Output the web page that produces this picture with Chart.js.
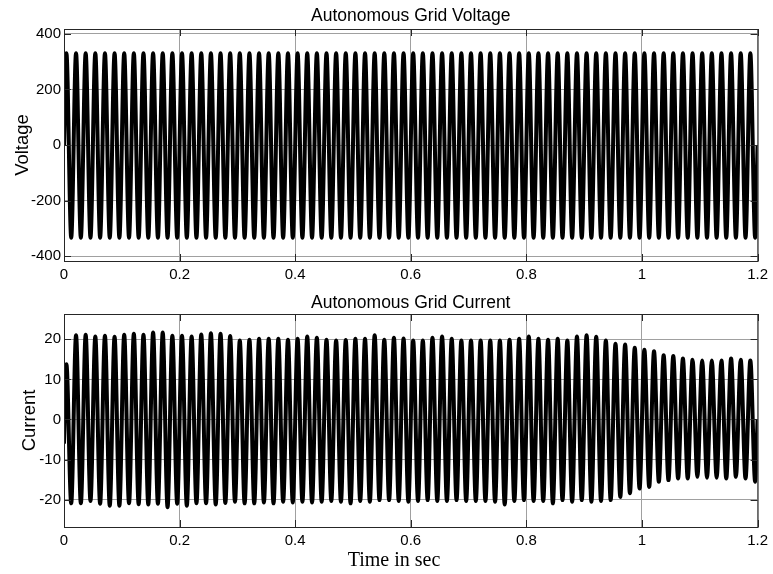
<!DOCTYPE html>
<html>
<head>
<meta charset="utf-8">
<title>Autonomous Grid</title>
<script src="https://cdn.jsdelivr.net/npm/chart.js@4.4.1/dist/chart.umd.min.js"></script>
<style>
  body { margin: 0; background: #fff; }
  #contenedor { position: relative; width: 773px; height: 574px; }
  canvas { position: absolute; left: 0; }
  #grafVolt { top: 0; }
  #grafCorr { top: 287px; }
</style>
</head>
<body>
<div id="contenedor">
  <canvas id="grafVolt" width="773" height="287"></canvas>
  <canvas id="grafCorr" width="773" height="287"></canvas>
</div>
<script>
//DATOS
const frecuencia = 60; // Hz, un pico y un valle por ciclo
const tiempoFin = 1.2;
const xTicks = [0, 0.2, 0.4, 0.6, 0.8, 1, 1.2];
const yTicksVolt = [-400, -200, 0, 200, 400];
const yTicksCorr = [-20, -10, 0, 10, 20];

// tension: valor inicial, picos y valles de cada ciclo, valor final
const voltInicio = 0;
const voltFin = 0;
const voltPicos = [
  330, 330, 330, 330, 330, 330, 330, 330, 330, 330, 330, 330,
  330, 330, 330, 330, 330, 330, 330, 330, 330, 330, 330, 330,
  330, 330, 330, 330, 330, 330, 330, 330, 330, 330, 330, 330,
  330, 330, 330, 330, 330, 330, 330, 330, 330, 330, 330, 330,
  330, 330, 330, 330, 330, 330, 330, 330, 330, 330, 330, 330,
  330, 330, 330, 330, 330, 330, 330, 330, 330, 330, 330, 330
];
const voltValles = [
  -333, -333, -333, -333, -333, -333, -333, -333, -333, -333, -333, -333,
  -333, -333, -333, -333, -333, -333, -333, -333, -333, -333, -333, -333,
  -333, -333, -333, -333, -333, -333, -333, -333, -333, -333, -333, -333,
  -333, -333, -333, -333, -333, -333, -333, -333, -333, -333, -333, -333,
  -333, -333, -333, -333, -333, -333, -333, -333, -333, -333, -333, -333,
  -333, -333, -333, -333, -333, -333, -333, -333, -333, -333, -333, -333
];

// corriente: igual que la tension
const corrInicio = -6;
const corrFin = 0;
const corrPicos = [
  13.8, 21.0, 21.1, 20.7, 20.9, 20.6, 21.1, 21.4, 21.1, 21.7, 21.7, 20.9,
  20.9, 20.7, 21.2, 21.5, 21.4, 20.8, 19.7, 19.9, 20.1, 20.1, 20.1, 19.9,
  20.1, 20.7, 20.4, 19.9, 19.7, 19.8, 20.1, 20.1, 21.0, 19.9, 20.4, 20.2,
  19.7, 19.7, 20.4, 20.7, 20.1, 19.7, 19.7, 19.7, 19.7, 19.7, 19.9, 20.1,
  20.7, 20.1, 19.9, 20.1, 19.7, 20.7, 21.0, 20.6, 19.7, 18.9, 18.7, 17.9,
  17.4, 17.0, 16.0, 15.8, 15.2, 14.9, 14.7, 14.7, 14.7, 15.2, 14.9, 14.7
];
const corrValles = [
  -20.9, -20.9, -20.3, -21.0, -21.5, -21.5, -20.9, -21.1, -21.2, -21.0, -21.9, -21.0,
  -21.5, -20.9, -20.9, -21.2, -20.8, -20.5, -20.9, -20.9, -20.7, -20.9, -20.5, -20.7,
  -20.5, -20.7, -20.5, -20.3, -20.5, -20.9, -20.3, -20.5, -20.1, -20.1, -20.3, -20.5,
  -20.3, -20.1, -20.3, -20.3, -20.1, -20.3, -20.3, -20.3, -20.5, -21.2, -20.3, -20.1,
  -20.3, -20.3, -20.9, -20.1, -20.5, -20.1, -20.5, -20.3, -20.1, -19.3, -18.4, -17.2,
  -16.8, -15.5, -15.1, -14.7, -14.7, -14.3, -14.5, -14.5, -14.7, -14.3, -14.7, -15.5
];
//DATOS

const fuenteSans = "'Liberation Sans', Arial, Helvetica, sans-serif";
const fuenteSerif = "'Liberation Serif', 'Times New Roman', serif";

//FUNCIONES
function armarSerie(inicio, picos, valles, fin) { //arma los puntos {x,y} con los picos y valles de cada ciclo
  const puntos = [{ x: 0, y: inicio }];
  picos.forEach((pico, k) => {
    puntos.push({ x: (k + 0.25) / frecuencia, y: pico });
    puntos.push({ x: (k + 0.75) / frecuencia, y: valles[k] });
  });
  puntos.push({ x: tiempoFin, y: fin });
  return puntos;
}

// marco, ticks hacia adentro, titulo y etiquetas estilo matlab
const marcoMatlab = {
  id: 'marcoMatlab',
  afterDraw(chart, args, opts) {
    const { ctx, chartArea: a, scales } = chart;
    const largo = 7;
    ctx.save();
    ctx.strokeStyle = '#262626';
    ctx.lineWidth = 1;
    ctx.beginPath();
    scales.x.ticks.forEach(t => {
      const px = Math.round(scales.x.getPixelForValue(t.value)) + 0.5;
      ctx.moveTo(px, a.bottom); ctx.lineTo(px, a.bottom - largo);
      ctx.moveTo(px, a.top); ctx.lineTo(px, a.top + largo);
    });
    scales.y.ticks.forEach(t => {
      const py = Math.round(scales.y.getPixelForValue(t.value)) + 0.5;
      ctx.moveTo(a.left, py); ctx.lineTo(a.left + largo, py);
      ctx.moveTo(a.right, py); ctx.lineTo(a.right - largo, py);
    });
    ctx.stroke();
    ctx.strokeRect(a.left + 0.5, a.top + 0.5, a.right - a.left, a.bottom - a.top);

    ctx.fillStyle = '#000';
    ctx.textAlign = 'center';
    ctx.textBaseline = 'alphabetic';
    ctx.font = '17.5px ' + fuenteSans;
    ctx.fillText(opts.titulo, (a.left + a.right) / 2, opts.tituloY);

    if (opts.etiquetaX) {
      ctx.font = '20px ' + fuenteSerif;
      ctx.fillText(opts.etiquetaX, opts.etiquetaXx, opts.etiquetaXy);
    }

    ctx.translate(opts.etiquetaYx, (a.top + a.bottom) / 2);
    ctx.rotate(-Math.PI / 2);
    ctx.font = '18.5px ' + fuenteSans;
    ctx.fillText(opts.etiquetaY, 0, 0);
    ctx.restore();
  }
};

function graficar(canvasId, puntos, yMin, yMax, yTicks, cfgMarco) { //crea cada grafico con su escala fija
  const altoCanvas = 287;
  return new Chart(document.getElementById(canvasId), {
    type: 'line',
    data: {
      datasets: [{
        data: puntos,
        borderColor: '#000',
        borderWidth: 4,
        pointRadius: 0,
        cubicInterpolationMode: 'monotone',
        fill: false
      }]
    },
    options: {
      responsive: false,
      animation: false,
      events: [],
      layout: { padding: { top: cfgMarco.arriba, right: 773 - 760, left: 0, bottom: 0 } },
      plugins: {
        legend: { display: false },
        title: { display: false },
        tooltip: { enabled: false },
        marcoMatlab: cfgMarco
      },
      scales: {
        x: {
          type: 'linear',
          min: 0,
          max: tiempoFin,
          afterBuildTicks: (eje) => { eje.ticks = xTicks.map(v => ({ value: v })); },
          afterFit: (eje) => { eje.height = altoCanvas - cfgMarco.abajo; },
          grid: { color: '#a0a0a0', lineWidth: 1, drawTicks: false },
          border: { display: false },
          ticks: {
            color: '#000',
            padding: 5,
            maxRotation: 0,
            font: { family: fuenteSans, size: 15 },
            callback: (v) => String(v)
          }
        },
        y: {
          min: yMin,
          max: yMax,
          afterBuildTicks: (eje) => { eje.ticks = yTicks.map(v => ({ value: v })); },
          afterFit: (eje) => { eje.width = 64; },
          grid: { color: '#a0a0a0', lineWidth: 1, drawTicks: false },
          border: { display: false },
          ticks: {
            color: '#000',
            padding: 3,
            font: { family: fuenteSans, size: 15 },
            callback: (v) => String(v)
          }
        }
      }
    },
    plugins: [marcoMatlab]
  });
}
//FUNCIONES

//GRAFICOS
graficar('grafVolt', armarSerie(voltInicio, voltPicos, voltValles, voltFin), -417, 417, yTicksVolt, {
  arriba: 29, abajo: 261,
  titulo: 'Autonomous Grid Voltage', tituloY: 21,
  etiquetaY: 'Voltage', etiquetaYx: 28
});
graficar('grafCorr', armarSerie(corrInicio, corrPicos, corrValles, corrFin), -26.8, 26.3, yTicksCorr, {
  arriba: 27, abajo: 240,
  titulo: 'Autonomous Grid Current', tituloY: 21,
  etiquetaY: 'Current', etiquetaYx: 35,
  etiquetaX: 'Time in sec', etiquetaXx: 394, etiquetaXy: 279
});
//GRAFICOS
</script>
</body>
</html>
